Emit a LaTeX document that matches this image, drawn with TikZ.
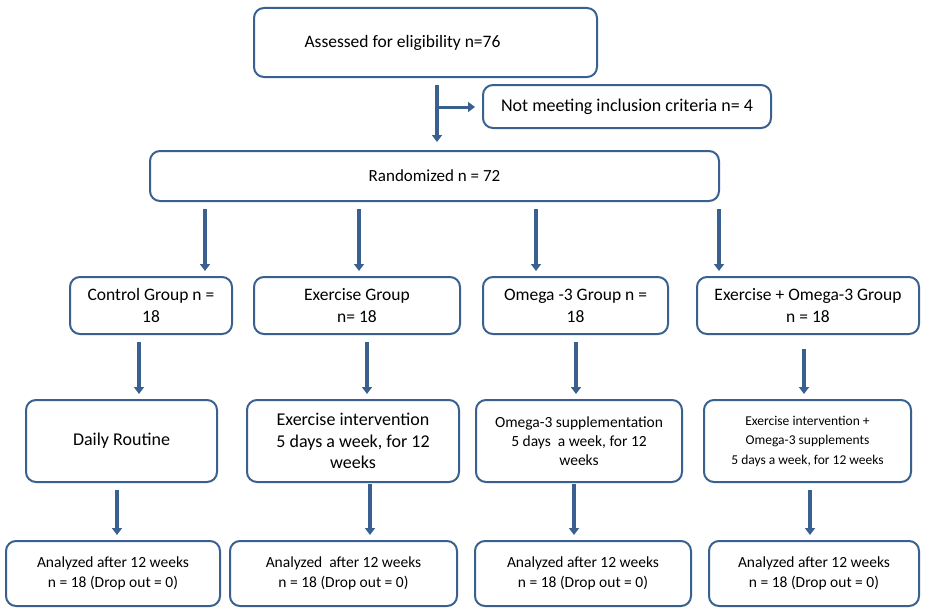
\documentclass[tikz,border=0pt]{standalone}
\usepackage{fontspec}
\setmainfont{Carlito}
\usetikzlibrary{positioning,arrows.meta}
\definecolor{flowblue}{HTML}{3A6090}

\begin{document}
\begin{tikzpicture}[x=1pt,y=-1pt,
	box/.style={draw=flowblue,line width=2pt,rounded corners=10pt,align=center,
		inner sep=2pt,font=\fontsize{17.5}{22}\selectfont},
	arr/.style={draw=flowblue,line width=3.5pt,-{Triangle[width=10pt,length=7pt]}}]
\useasboundingbox (0,0) rectangle (926,610);

% top part
\node[box,minimum width=343pt,minimum height=69pt] (assess) at (425.5,42.5) {\hspace*{-46pt}Assessed for eligibility n=76};
\node[box,minimum width=288pt,minimum height=43pt,font=\fontsize{18}{22}\selectfont] (excl) at (627,106.5) {Not meeting inclusion criteria n= 4};
\node[box,minimum width=569pt,minimum height=50pt,font=\fontsize{17}{22}\selectfont] (rand) at (434.5,176) {Randomized n = 72};
\coordinate (split) at (437,107);
\draw[arr] (assess.south -| split) ++(0,7) -- ([yshift=8pt]rand.north -| split);
\draw[arr,line width=3pt] (split) -- ([xshift=-7pt]excl.west |- split);

% groups
\foreach \n/\x/\w/\t in {ctl/151/162/{Control Group n =\\18},
	exg/357/206/{Exercise Group\\n= 18},
	omg/575.5/185/{Omega -3 Group n =\\18},
	eom/808/222/{Exercise + Omega-3 Group\\n = 18}}
	\node[box,minimum width=\w pt,minimum height=57pt] (\n) at (\x,305.5) {\t};

% interventions
\node[box,minimum width=191pt,minimum height=82pt,font=\fontsize{18}{22}\selectfont] (daily) at (121.5,441) {Daily Routine};
\node[box,minimum width=212pt,minimum height=82pt,font=\fontsize{18}{21.5}\selectfont] (exi) at (353,441) {Exercise intervention\\5 days a week, for 12\\weeks};
\node[box,minimum width=206pt,minimum height=82pt,font=\fontsize{15.5}{19}\selectfont] (omi) at (579,441) {Omega-3 supplementation\\5 days~ a week, for 12\\weeks};
\node[box,minimum width=207pt,minimum height=82pt,font=\fontsize{13.5}{19.5}\selectfont] (eoi) at (807.5,441) {Exercise intervention +\\Omega-3 supplements\\5 days a week, for 12 weeks};

% analysis
\foreach \n/\x/\w/\t/\dy in {an1/113/210/{Analyzed after 12 weeks}/0,
	an2/343.5/223/{Analyzed~ after 12 weeks}/0,
	an3/583/212/{Analyzed after 12 weeks}/6,
	an4/814/206/{Analyzed after 12 weeks}/0}
	\node[box,minimum width=\w pt,minimum height=65pt,font=\fontsize{15.5}{20}\selectfont] (\n) at (\x,573.5)
		{\raisebox{\dy pt}{\parbox{\w pt}{\centering\t\\n = 18 (Drop out = 0)}}};

% arrows
\foreach \a/\b/\x/\s in {rand/ctl/205/7,rand/exg/359/7,rand/omg/536/7,rand/eom/719/7,
	ctl/daily/139/7,exg/exi/367/7,omg/omi/576/7,eom/eoi/804/14,
	daily/an1/117/7,exi/an2/370/1,omi/an3/574/1,eoi/an4/810/7}
	\draw[arr,shorten <=\s pt] (\a.south -| \x,0) -- ([yshift=5pt]\b.north -| \x,0);
\end{tikzpicture}
\end{document}
